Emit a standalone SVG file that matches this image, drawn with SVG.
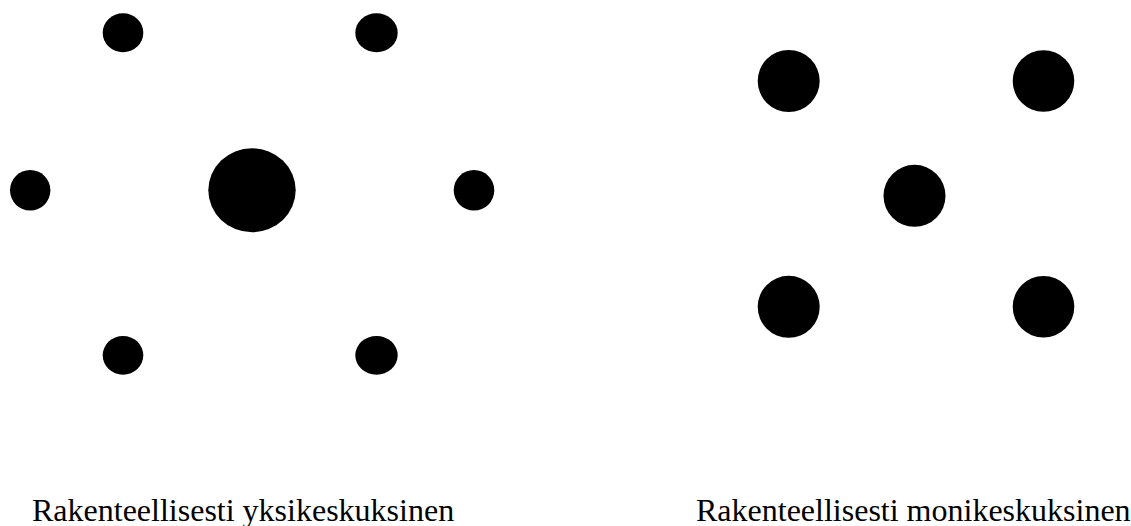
<svg xmlns="http://www.w3.org/2000/svg" width="1131" height="526" viewBox="0 0 1131 526">
<style>
.dot{fill:#000}
.lbl{font-family:"Liberation Serif","Times New Roman",serif;font-size:32px;fill:#000}
</style>
<rect width="1131" height="526" fill="#fff"/>
<g id="mono">
<ellipse id="n-center" class="dot" cx="252" cy="190.3" rx="43.7" ry="42"/>
<ellipse id="n-tl" class="dot" cx="123" cy="32.8" rx="20.3" ry="19.5"/>
<ellipse id="n-tr" class="dot" cx="376.5" cy="32.8" rx="21.2" ry="19.5"/>
<ellipse id="n-l" class="dot" cx="30.2" cy="190.3" rx="20.2" ry="20.3"/>
<ellipse id="n-r" class="dot" cx="474" cy="190.3" rx="20.3" ry="20.3"/>
<ellipse id="n-bl" class="dot" cx="123" cy="355.3" rx="20.3" ry="19.4"/>
<ellipse id="n-br" class="dot" cx="376.5" cy="355.3" rx="21.2" ry="19.4"/>
</g>
<g id="poly">
<circle id="p-tl" class="dot" cx="788.7" cy="81" r="31"/>
<circle id="p-tr" class="dot" cx="1043.5" cy="81" r="30.8"/>
<circle id="p-c" class="dot" cx="914.5" cy="195.8" r="31"/>
<circle id="p-bl" class="dot" cx="788.7" cy="306.8" r="31"/>
<circle id="p-br" class="dot" cx="1043.5" cy="306.8" r="30.8"/>
</g>
<g id="connectors"/>
<g id="labels">
<text class="lbl" x="32" y="521">Rakenteellisesti yksikeskuksinen</text>
<text class="lbl" x="696" y="521">Rakenteellisesti monikeskuksinen</text>
</g>
</svg>
